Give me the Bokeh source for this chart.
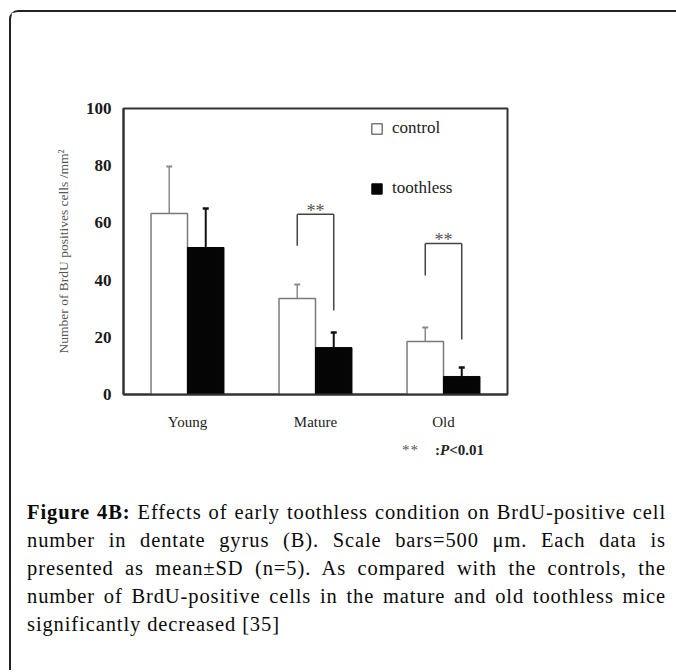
from bokeh.plotting import figure
from bokeh.models import (FactorRange, ColumnDataSource, Legend, LegendItem,
                          Div, Range1d, FixedTicker)
from bokeh.transform import dodge
from bokeh.layouts import column
from bokeh.embed import file_html
from bokeh.resources import INLINE
from bokeh.core.properties import value

# ---- data ----
groups = ["Young", "Mature", "Old"]
control_mean = [63.3, 33.6, 18.5]
control_sd = [16.4, 4.9, 4.9]
toothless_mean = [51.4, 16.4, 6.3]
toothless_sd = [13.6, 5.3, 3.1]
y_ticks = [0, 20, 40, 60, 80, 100]
series_names = ["control", "toothless"]

sig_groups = ["Mature", "Old"]
sig_left_low = [52.0, 41.6]
sig_top = [63.0, 52.8]
sig_right_low = [29.4, 19.2]
sig_text = ["**", "**"]

y_label = "Number of BrdU positives cells /mm\u00b2"
footnote_mark = "**"
footnote_text = ("<b>:</b><b><i>P</i></b><b>&lt;0.01</b>")
caption_lines = [
    "<b>Figure 4B:</b> Effects of early toothless condition on BrdU-positive cell",
    "number in dentate gyrus (B). Scale bars=500 \u03bcm. Each data is",
    "presented as mean\u00b1SD (n=5). As compared with the controls, the",
    "number of BrdU-positive cells in the mature and old toothless mice",
    "significantly decreased [35]",
]

SERIF = "Liberation Serif"
OFF = 0.1425
BW = 0.285

src = ColumnDataSource(dict(
    group=groups,
    c=control_mean,
    c_hi=[m + s for m, s in zip(control_mean, control_sd)],
    t=toothless_mean,
    t_hi=[m + s for m, s in zip(toothless_mean, toothless_sd)],
))
sig_src = ColumnDataSource(dict(group=sig_groups, lo_l=sig_left_low, top=sig_top,
                                lo_r=sig_right_low, txt=sig_text))

p = figure(x_range=FactorRange(*groups), y_range=Range1d(0, 100),
           width=665, height=428, output_backend="svg", toolbar_location=None,
           min_border_left=112, min_border_right=169, min_border_top=96,
           min_border_bottom=46)
p.x_range.range_padding = 0
p.outline_line_color = "#333333"
p.outline_line_width = 2
p.outline_line_alpha = 1
p.xgrid.visible = False
p.ygrid.visible = False
p.background_fill_color = "white"
p.border_fill_color = "white"

ax = p.yaxis[0]
ax.ticker = FixedTicker(ticks=y_ticks)
ax.major_label_text_font = SERIF
ax.major_label_text_font_style = "bold"
ax.major_label_text_font_size = "17px"
ax.major_label_text_color = "#1a1a1a"
ax.major_tick_in = 0
ax.major_tick_out = 0
ax.minor_tick_line_color = None
ax.major_label_standoff = 12
ax.axis_line_width = 2
ax.axis_line_color = "#333333"
ax.axis_label = y_label
ax.axis_label_text_font = SERIF
ax.axis_label_text_font_style = "normal"
ax.axis_label_text_font_size = "13.5px"
ax.axis_label_text_color = "#555555"
ax.axis_label_standoff = 12

xa = p.xaxis[0]
xa.major_label_text_font = SERIF
xa.major_label_text_font_size = "15px"
xa.major_label_text_color = "#222222"
xa.major_tick_in = 0
xa.major_tick_out = 0
xa.major_label_standoff = 19
xa.axis_line_width = 2
xa.axis_line_color = "#333333"

xc = dodge("group", -OFF, range=p.x_range)
xt = dodge("group", OFF, range=p.x_range)

# error bars (drawn first so bars cover the lower parts)
p.segment(x0=xc, y0="c", x1=xc, y1="c_hi", line_color="#8a8a8a", line_width=1.5, source=src)
p.scatter(x=xc, y="c_hi", marker="dash", size=6, line_color="#8a8a8a", line_width=2, source=src)
p.segment(x0=xt, y0="t", x1=xt, y1="t_hi", line_color="#111111", line_width=2, source=src)
p.scatter(x=xt, y="t_hi", marker="dash", size=6, line_color="#111111", line_width=2.5, source=src)

rc = p.vbar(x=xc, top="c", width=BW, fill_color="white", line_color="#7a7a7a",
            line_width=1.5, source=src)
rt = p.vbar(x=xt, top="t", width=BW, fill_color="#050505", line_color="#050505",
            line_width=1, source=src)

# significance brackets
br_kw = dict(line_color="#444444", line_width=1.5, source=sig_src)
p.segment(x0=xc, y0="lo_l", x1=xc, y1="top", **br_kw)
p.segment(x0=xc, y0="top", x1=xt, y1="top", **br_kw)
p.segment(x0=xt, y0="top", x1=xt, y1="lo_r", **br_kw)
p.text(x="group", y="top", text="txt", source=sig_src, text_align="center",
       text_baseline="middle", y_offset=-3, text_font=value(SERIF),
       text_font_size="18px", text_color="#555555")

legend = Legend(items=[LegendItem(label=series_names[0], renderers=[rc]),
                       LegendItem(label=series_names[1], renderers=[rt])],
                location=(247, 196), border_line_color=None, background_fill_alpha=0,
                label_text_font=SERIF, label_text_font_size="17px",
                label_text_color="#222222",
                glyph_width=13, glyph_height=13, label_standoff=9, spacing=40,
                padding=0, margin=0)
p.add_layout(legend)

line_divs = []
for i, ln in enumerate(caption_lines):
    last = i == len(caption_lines) - 1
    align = "left" if last else "justify"
    line_divs.append(
        f'<div style="text-align:{align}; text-align-last:{align}; white-space:nowrap;">{ln}</div>'
    )
foot_html = (f'<div style="font-size:15px; line-height:20px; height:20px; color:#222; '
             f'padding-left:386px; white-space:nowrap; position:relative; top:-5px;">'
             f'<span style="color:#555; letter-spacing:1px;">{footnote_mark}</span>'
             f'<span style="display:inline-block; width:16px;"></span>{footnote_text}</div>')
cap_html = (f'<div style="font-family:\'{SERIF}\'; color:#0a0a0a; box-sizing:border-box;">'
            + foot_html +
            f'<div style="font-size:20.5px; line-height:28px; letter-spacing:0.9px; '
            f'box-sizing:border-box; width:650px; padding:0 0 0 11px; margin-top:33px;">'
            + "".join(line_divs) + "</div></div>")
cap = Div(text=cap_html, width=665, height=220)

layout = column(p, cap, styles={"border-left": "2px solid #222",
                                "border-top": "2px solid #222",
                                "border-top-left-radius": "9px",
                                "margin": "10px 0 0 9px",
                                "background": "white"})

with open("out.html", "w") as f:
    f.write(file_html(layout, INLINE))
